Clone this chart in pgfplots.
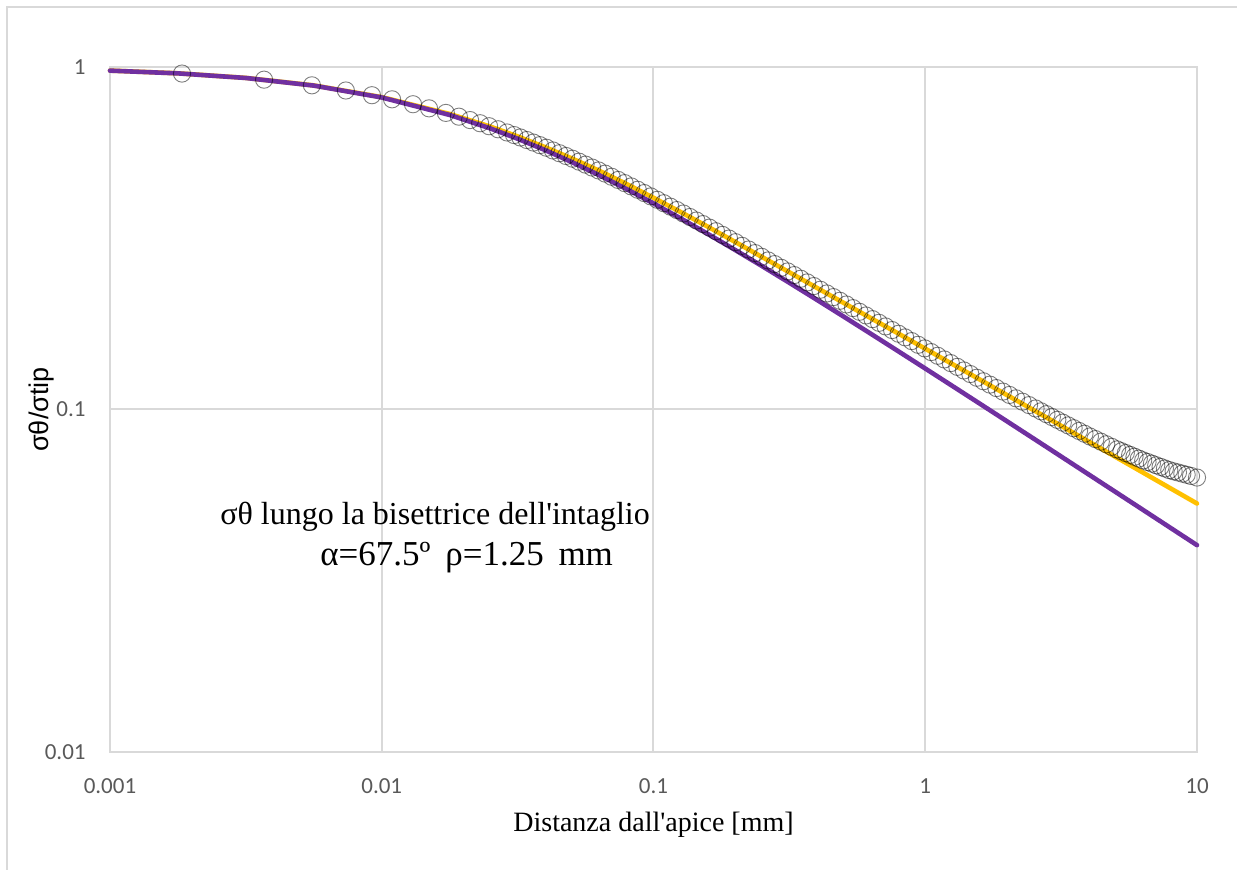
\documentclass[border=0pt]{standalone}
\usepackage{pgfplots}
\pgfplotsset{compat=1.18}
\usepackage{fontspec}
\setmainfont{Liberation Serif}
\newfontfamily\carlito{Carlito}
\newfontfamily\lsans{Liberation Sans}
\definecolor{purp}{HTML}{7030A0}
\definecolor{gold}{HTML}{FFC000}
\definecolor{gridg}{HTML}{D9D9D9}
\definecolor{tickg}{HTML}{595959}

\pgfplotstableread{
x y
0.001841 0.9568
0.003690 0.9183
0.005534 0.8841
0.007379 0.8539
0.009204 0.8272
0.010914 0.8047
0.013032 0.7786
0.014928 0.7574
0.017219 0.7345
0.019231 0.7161
0.021135 0.7000
0.023014 0.6852
0.024831 0.6716
0.026792 0.6580
0.028907 0.6439
0.030690 0.6329
0.032359 0.6227
0.034198 0.6121
0.036141 0.6017
0.038194 0.5914
0.040365 0.5812
0.042658 0.5706
0.045082 0.5601
0.047643 0.5498
0.050350 0.5398
0.053211 0.5292
0.056234 0.5188
0.059429 0.5087
0.062806 0.4988
0.066374 0.4883
0.070146 0.4781
0.074131 0.4680
0.078343 0.4581
0.082794 0.4481
0.087498 0.4381
0.092470 0.4285
0.097724 0.4190
0.10328 0.4095
0.10914 0.4002
0.11535 0.3912
0.12190 0.3823
0.12882 0.3735
0.13614 0.3648
0.14388 0.3563
0.15205 0.3479
0.16069 0.3397
0.16982 0.3315
0.17947 0.3235
0.18967 0.3156
0.20045 0.3080
0.21184 0.3005
0.22387 0.2932
0.23659 0.2862
0.25003 0.2792
0.26424 0.2724
0.27925 0.2658
0.29512 0.2593
0.31189 0.2530
0.32961 0.2469
0.34834 0.2409
0.36813 0.2350
0.38905 0.2293
0.41115 0.2237
0.43451 0.2182
0.45920 0.2129
0.48529 0.2077
0.51286 0.2026
0.54200 0.1977
0.57280 0.1929
0.60534 0.1882
0.63973 0.1836
0.67608 0.1791
0.71450 0.1748
0.75509 0.1706
0.79799 0.1664
0.84333 0.1624
0.89125 0.1584
0.94189 0.1545
0.99540 0.1508
1.05196 0.1471
1.11173 0.1435
1.17490 0.1400
1.24165 0.1366
1.31220 0.1332
1.38676 0.1300
1.46555 0.1269
1.54882 0.1238
1.63682 0.1209
1.72982 0.1182
1.82810 0.1155
1.93197 0.1128
2.04174 0.1103
2.15774 0.1078
2.28034 0.1054
2.40990 0.1030
2.54683 0.1007
2.66686 0.09879
2.79254 0.09692
2.92415 0.09508
3.06196 0.09328
3.20627 0.09154
3.35738 0.08985
3.51560 0.08819
3.68129 0.08656
3.85478 0.08496
4.03645 0.08341
4.22669 0.08196
4.42588 0.08056
4.63447 0.07916
4.85289 0.07779
5.08159 0.07649
5.27230 0.07554
5.47016 0.07461
5.67545 0.07371
5.88844 0.07280
6.10942 0.07190
6.33870 0.07102
6.57658 0.07026
6.82339 0.06950
7.07946 0.06874
7.34514 0.06800
7.62079 0.06727
7.90679 0.06654
8.20352 0.06599
8.51138 0.06549
8.83080 0.06498
9.16220 0.06448
9.50605 0.06397
10 0.06330
}\circdata

\pgfplotstableread{
x y
0.001 0.97575
0.0017783 0.95805
0.0031623 0.92875
0.0056234 0.88253
0.01 0.81473
0.017783 0.72439
0.025119 0.66154
0.031623 0.61743
0.039811 0.57248
0.050119 0.52752
0.063096 0.48333
0.079433 0.44057
0.1 0.39979
0.12589 0.36136
0.15849 0.32553
0.19953 0.29243
0.25119 0.26208
0.31623 0.23442
0.39811 0.20935
0.50119 0.18672
0.63096 0.16635
0.79433 0.14808
1 0.13173
1.2589 0.11712
1.5849 0.10409
1.9953 0.092468
2.5119 0.082122
3.1623 0.072919
3.9811 0.064735
5.0119 0.057463
6.3096 0.051001
7.9433 0.045262
10 0.040165
}\purpdata

\pgfplotstableread{
x y
0.001 0.9761
0.0017783 0.9585
0.0031623 0.9294
0.0056234 0.8835
0.01 0.8166
0.017783 0.7293
0.025119 0.6696
0.031623 0.6272
0.039811 0.5839
0.050119 0.5406
0.063096 0.4980
0.079433 0.4557
0.1 0.4151
0.12589 0.3772
0.15849 0.3418
0.19953 0.3087
0.25119 0.2786
0.31623 0.2515
0.39811 0.2269
0.50119 0.2047
0.63096 0.1848
0.79433 0.1668
1 0.1505
1.2589 0.1357
1.5849 0.1224
1.9953 0.1103
2.5119 0.09945
3.1623 0.08962
3.9811 0.08074
5.0119 0.07274
6.3096 0.06552
7.9433 0.05902
10 0.05315
}\golddata

\begin{document}
\begin{tikzpicture}
\useasboundingbox (0,0) rectangle (618.5pt,435pt);
\draw[gridg, line width=0.75pt] (3.5pt,-5pt) -- (3.5pt,431.5pt) -- (625pt,431.5pt);
\begin{axis}[
  at={(55pt,59pt)}, anchor=south west,
  scale only axis, width=543.5pt, height=342.5pt,
  xmode=log, ymode=log,
  xmin=0.001, xmax=10, ymin=0.01, ymax=1,
  xtick={0.001,0.01,0.1,1,10}, xticklabels={0.001,0.01,0.1,1,10},
  ytick={0.01,0.1,1}, yticklabels={0.01,0.1,1},
  xminorticks=false, yminorticks=false,
  major tick length=0pt,
  grid=major, major grid style={gridg, line width=1pt},
  axis line style={gridg, line width=1pt},
  /pgf/number format/assume math mode=true,
  tick label style={font=\carlito\fontsize{11.5}{13}\selectfont, text=tickg, inner sep=0pt},
  xticklabel style={anchor=north, yshift=-13pt},
  yticklabel style={anchor=east, xshift=-12pt},
  clip=false,
]
\addplot[gold, line width=2.3pt, line cap=round, line join=round] table[x=x,y=y] {\golddata};
\addplot[purp, line width=2.3pt, line cap=round, line join=round] table[x=x,y=y] {\purpdata};
\addplot[only marks, mark=o, mark size=4.3pt, mark options={draw=black, draw opacity=0.5, line width=0.45pt}] table[x=x,y=y] {\circdata};
\end{axis}
\node[anchor=base, inner sep=0pt, font=\fontsize{14}{16}\selectfont] at (326.75pt,19pt) {Distanza dall\textquotesingle apice [mm]};
\node[rotate=90, inner sep=0pt, font=\lsans\fontsize{13.5}{15}\selectfont] at (21pt,230.25pt) {σθ/σtip};
\node[anchor=base west, inner sep=0pt, font=\fontsize{16}{19}\selectfont] at (110pt,172.5pt) {σθ lungo la bisettrice dell\textquotesingle intaglio};
\node[anchor=base west, inner sep=0pt, font=\fontsize{17.5}{20}\selectfont] at (160pt,152pt) {α=67.5º\hspace{3pt} ρ=1.25\hspace{3pt} mm};
\end{tikzpicture}
\end{document}
